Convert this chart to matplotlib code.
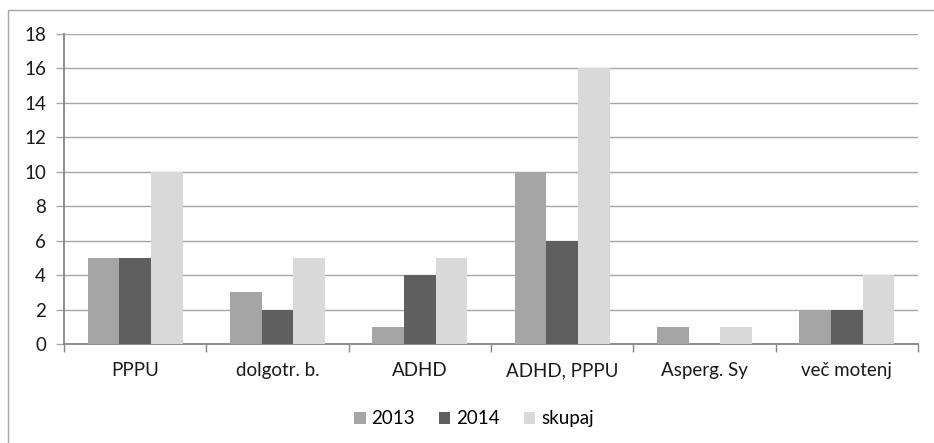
import numpy as np
import matplotlib.pyplot as plt
from matplotlib.patches import Rectangle

categories = ['PPPU', 'dolgotr. b.', 'ADHD', 'ADHD, PPPU', 'Asperg. Sy', 'več motenj']
y2013 = [5, 3, 1, 10, 1, 2]
y2014 = [5, 2, 4, 6, 0, 2]
skupaj = [10, 5, 5, 16, 1, 4]
series_names = ['2013', '2014', 'skupaj']
colors = ['#a5a5a5', '#5f5f5f', '#d9d9d9']

plt.rcParams['font.family'] = ['Lato', 'DejaVu Sans']

fig = plt.figure(figsize=(9.34, 4.43), dpi=100)
# outer chart border (cut off on right and bottom)
fig.patches.append(Rectangle((8 / 934, -0.1), 1.2, (443 - 10) / 443 + 0.1,
                             transform=fig.transFigure, fill=False,
                             edgecolor='#a6a6a6', linewidth=1))
ax = fig.add_axes([64 / 934, 99 / 443, 854 / 934, 310 / 443])

x = np.arange(len(categories))
w = 1 / 4.5
for i, (vals, name) in enumerate(zip([y2013, y2014, skupaj], series_names)):
    ax.bar(x + (i - 1) * w, vals, w, color=colors[i], label=name, zorder=3)

ax.set_xlim(-0.5, len(categories) - 0.5)
ax.set_ylim(0, 18)
ax.set_yticks(range(0, 19, 2))
ax.yaxis.grid(True, color='#a6a6a6', linewidth=1, zorder=0)
ax.set_axisbelow(True)

ax.set_xticks(x)
ax.set_xticklabels(categories)
ax.set_xticks(np.arange(len(categories) + 1) - 0.5, minor=True)
ax.tick_params(axis='x', which='major', length=0, pad=13, labelsize=13.5, colors='#1a1a1a')
ax.tick_params(axis='x', which='minor', length=6, color='#868686', width=1)
ax.tick_params(axis='y', length=6, width=1, labelsize=13.5, pad=7)
ax.tick_params(axis='y', colors='#a6a6a6', labelcolor='#1a1a1a')

for side in ['top', 'right']:
    ax.spines[side].set_visible(False)
ax.spines['left'].set_color('#868686')
ax.spines['bottom'].set_color('#868686')
ax.spines['left'].set_linewidth(1.3)
ax.spines['bottom'].set_linewidth(1.3)

ax.legend(loc='upper center', bbox_to_anchor=(0.48, -0.16), ncol=3, frameon=False,
          fontsize=13.5, handlelength=0.6, handleheight=0.6, handletextpad=0.3,
          columnspacing=1.3)

plt.savefig('out.png', dpi=100)
plt.close()
